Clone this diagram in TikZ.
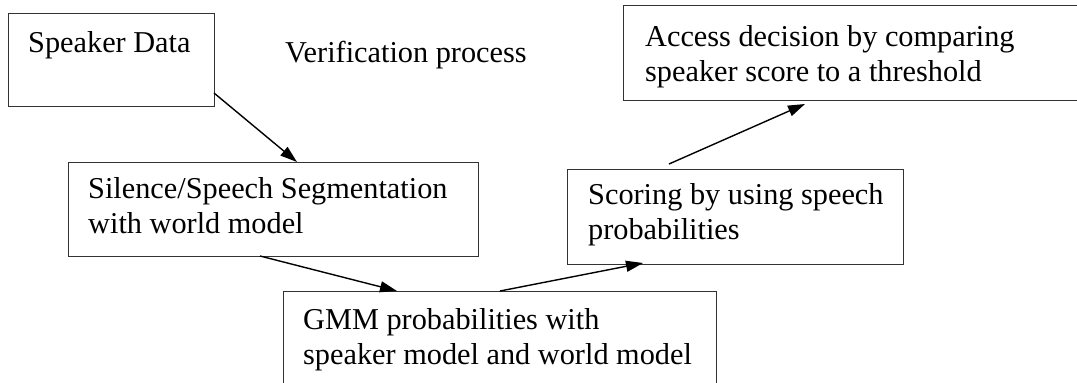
\documentclass[tikz,border=0pt]{standalone}
\usepackage{fontspec}
\setmainfont{Liberation Serif}
\usetikzlibrary{arrows.meta}
\begin{document}
\begin{tikzpicture}[x=1pt,y=-1pt,
  box/.style={draw=black!80, line width=1pt, rectangle, inner sep=0pt, anchor=north west},
  txt/.style={anchor=base west, inner sep=0pt, align=left, font=\fontsize{30.3}{34.5}\selectfont},
  flow/.style={line width=1.4pt, -{Triangle[length=17pt,width=11pt]}}]
\useasboundingbox (0,0) rectangle (1077,383);
\clip (0,0) rectangle (1077,383);
% boxes
\node[box, minimum width=206pt, minimum height=93pt] (b1) at (8,13) {};
\node[box, minimum width=410pt, minimum height=94pt] (b2) at (68,162) {};
\node[box, minimum width=336pt, minimum height=95pt] (b3) at (567,169) {};
\node[box, minimum width=470pt, minimum height=95pt] (b4) at (623,5) {};
\node[box, minimum width=433pt, minimum height=110pt] (b5) at (283,291) {};
% texts (base anchor = baseline of last line)
\node[txt] (t1) at (28,52) {Speaker Data};
\node[txt] (t0) at (285,62) {Verification process};
\node[txt] (t2) at (88,233) {Silence/Speech Segmentation\\with world model};
\node[txt] (t3) at (588,239) {Scoring by using speech\\probabilities};
\node[txt] (t4) at (645,81) {Access decision by comparing\\speaker score to a threshold};
\node[txt] (t5) at (303,364) {GMM probabilities with\\speaker model and world model};
% connector end points
\coordinate (a1s) at (214,93);
\coordinate (a1e) at (297,162);
\coordinate (a2s) at (260,256);
\coordinate (a2e) at (397,291);
\coordinate (a3s) at (500,291);
\coordinate (a3e) at (643,263);
\coordinate (a4s) at (669,164);
\coordinate (a4e) at (805,104);
\draw[flow] (a1s) -- (a1e);
\draw[flow] (a2s) -- (a2e);
\draw[flow] (a3s) -- (a3e);
\draw[flow] (a4s) -- (a4e);
\end{tikzpicture}
\end{document}
